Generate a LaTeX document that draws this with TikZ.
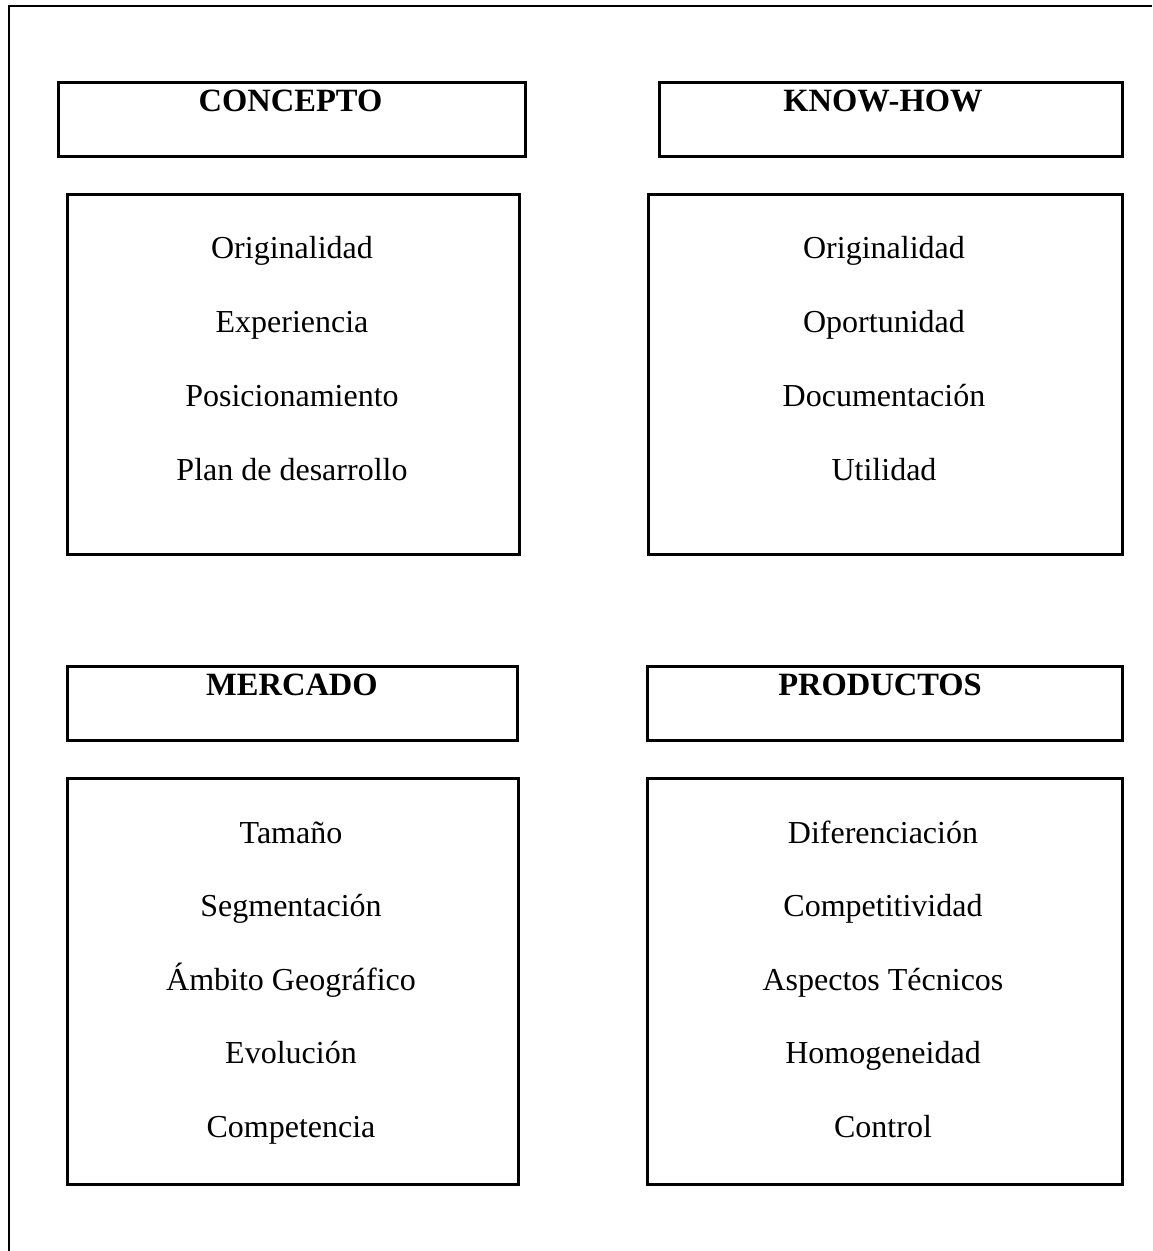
\documentclass[tikz,border=0pt]{standalone}
\usepackage{fontspec}
\setmainfont{Liberation Serif}
\begin{document}
\begin{tikzpicture}[x=1pt,y=-1pt,
  box/.style={draw,line width=2.5pt,inner sep=0pt,anchor=north west},
  head/.style={anchor=base,inner sep=0pt,font=\fontsize{32.5}{39}\selectfont\bfseries},
  item/.style={anchor=base,inner sep=0pt,font=\fontsize{32}{38}\selectfont}]
\useasboundingbox (0,0) rectangle (1152,1251);
% open outer frame: top and left edges only
\coordinate (fTR) at (1152,6);
\coordinate (fTL) at (9,6);
\coordinate (fBL) at (9,1251);
\draw[line width=2.5pt] (fTR) -- (fTL) -- (fBL);

% header boxes
\node[box,minimum width=467pt,minimum height=74pt] (hC) at (57,81) {};
\node[box,minimum width=463pt,minimum height=74pt] (hK) at (658,81) {};
\node[box,minimum width=450pt,minimum height=74pt] (hM) at (66,665) {};
\node[box,minimum width=475pt,minimum height=74pt] (hP) at (646,665) {};
\node[head] (tC) at (290.5,111) {CONCEPTO};
\node[head] (tK) at (883,111) {KNOW-HOW};
\node[head] (tM) at (292,695) {MERCADO};
\node[head] (tP) at (880,695) {PRODUCTOS};

% content boxes
\node[box,minimum width=452pt,minimum height=360pt] (bC) at (66,193) {};
\node[box,minimum width=474pt,minimum height=360pt] (bK) at (647,193) {};
\node[box,minimum width=451pt,minimum height=406pt] (bM) at (66,777) {};
\node[box,minimum width=475pt,minimum height=406pt] (bP) at (646,777) {};

\foreach \t [count=\i] in {Originalidad,Experiencia,Posicionamiento,Plan de desarrollo}
  \node[item] (c\i) at (292,{258+74*(\i-1)}) {\t};
\foreach \t [count=\i] in {Originalidad,Oportunidad,Documentación,Utilidad}
  \node[item] (k\i) at (884,{258+74*(\i-1)}) {\t};
\foreach \t [count=\i] in {Tamaño,Segmentación,Ámbito Geográfico,Evolución,Competencia}
  \node[item] (m\i) at (291,{843+73.5*(\i-1)}) {\t};
\foreach \t [count=\i] in {Diferenciación,Competitividad,Aspectos Técnicos,Homogeneidad,Control}
  \node[item] (p\i) at (883,{843+73.5*(\i-1)}) {\t};
\end{tikzpicture}
\end{document}
